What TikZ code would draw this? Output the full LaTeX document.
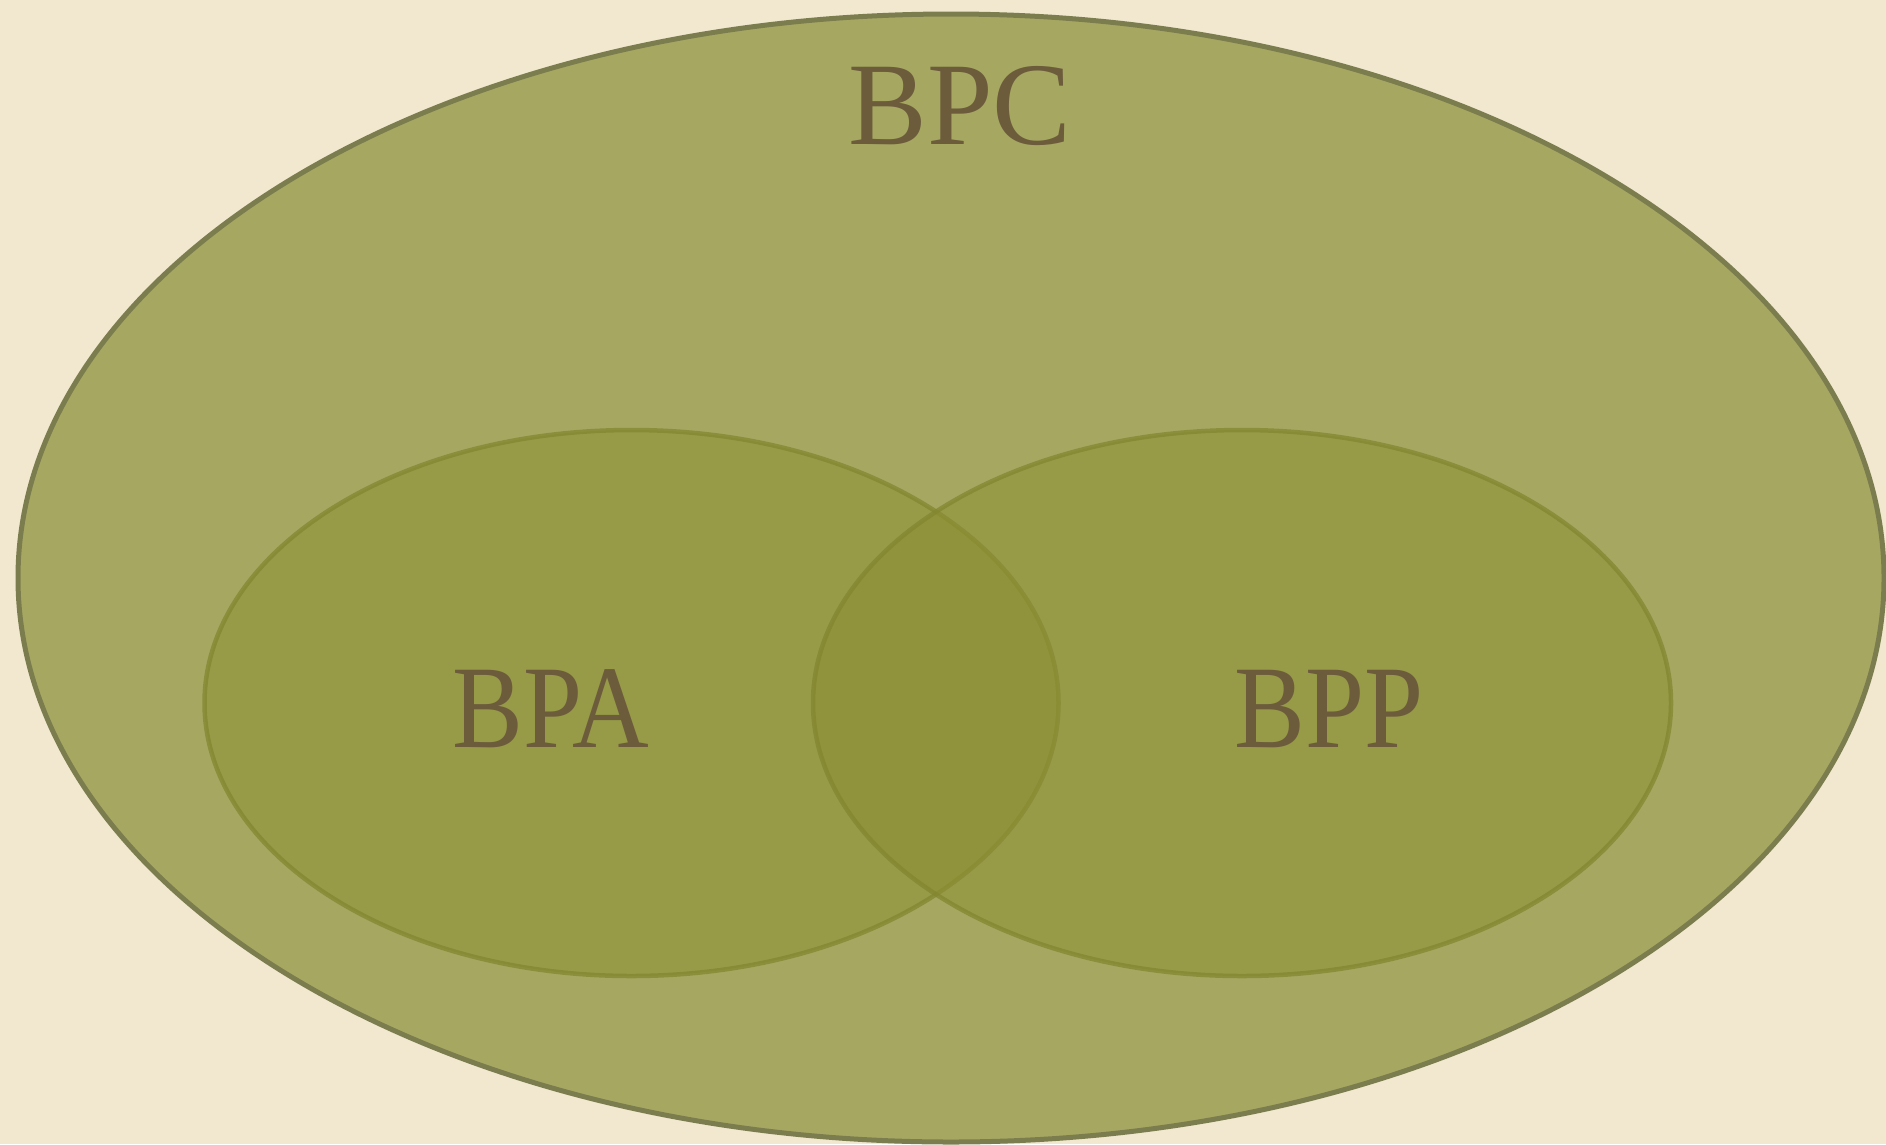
\documentclass[tikz,border=0pt]{standalone}
\usepackage{fontspec}
\setmainfont{Liberation Serif}
\definecolor{paper}{HTML}{F1E8CF}
\definecolor{outerfill}{HTML}{A6A862}
\definecolor{outerline}{HTML}{7B7D4E}
\definecolor{innerfill}{HTML}{8C8F32}
\definecolor{innerline}{HTML}{83862F}
\definecolor{labelink}{HTML}{6C5C3C}
\begin{document}
\begin{tikzpicture}[x=1pt,y=-1pt,
  setlabel/.style={text=labelink,inner sep=0pt,font=\fontsize{118}{118}\selectfont},
  outerset/.style={fill=outerfill,draw=outerline,line width=5pt},
  innerset/.style={fill=innerfill,fill opacity=0.55,draw=innerline,draw opacity=0.75,line width=4.5pt}]
  % paper background
  \fill[paper] (0,0) rectangle (1886,1144);
  \useasboundingbox (0,0) rectangle (1886,1144);
  % universe set
  \path[outerset] (951,578) ellipse [x radius=933,y radius=564];
  % the two overlapping subsets
  \path[innerset] (631.5,703) ellipse [x radius=427,y radius=273];
  \path[innerset] (1242,703) ellipse [x radius=429,y radius=273];
  % labels
  \node[setlabel] (bpc) at (960,106) {BPC};
  \node[setlabel,xscale=0.9] (bpa) at (551,709) {BPA};
  \node[setlabel,xscale=0.9] (bpp) at (1329,709) {BPP};
\end{tikzpicture}
\end{document}
